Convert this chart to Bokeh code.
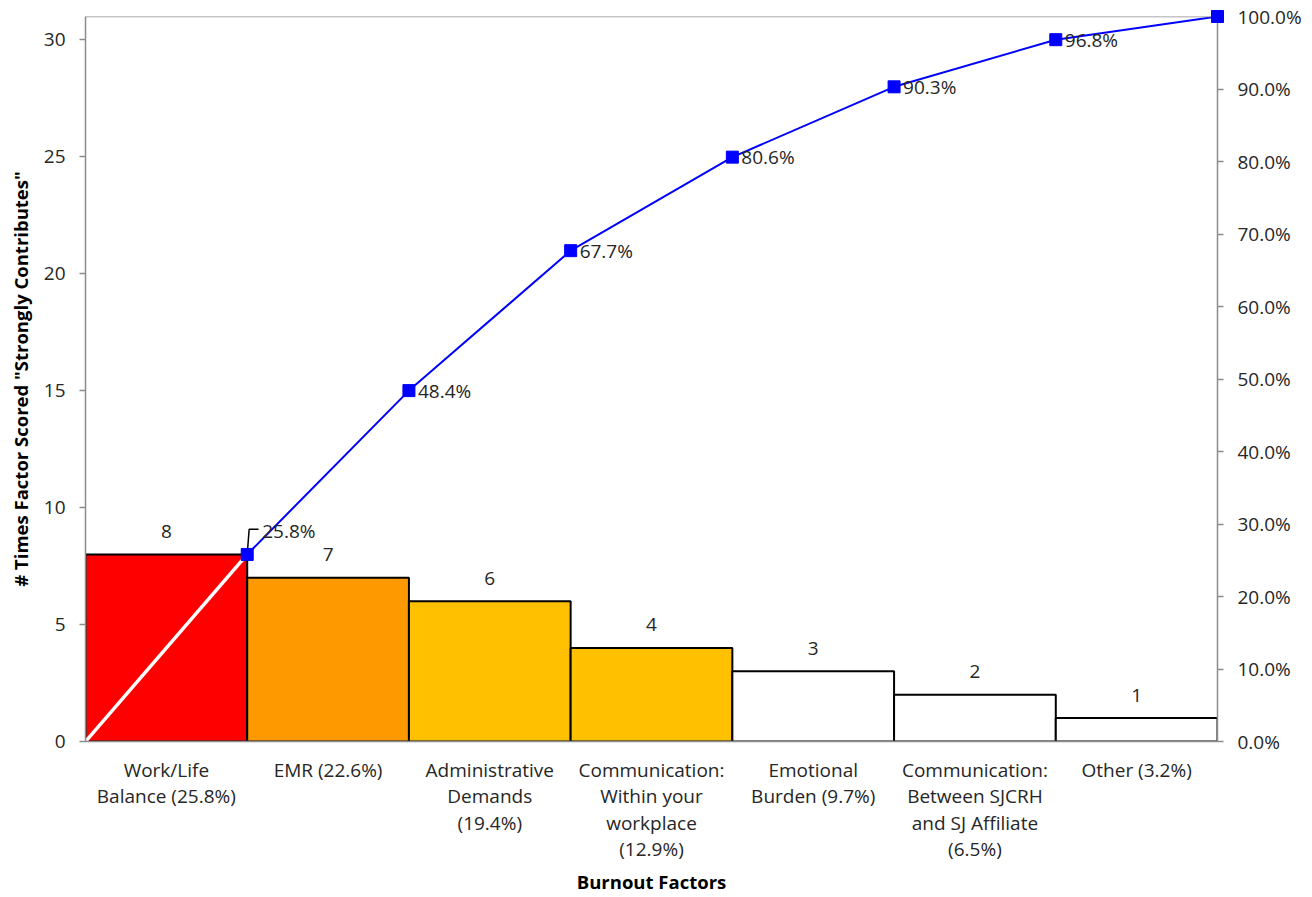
from bokeh.plotting import figure
from bokeh.models import (ColumnDataSource, Range1d, LinearAxis, FixedTicker,
                          PrintfTickFormatter, Span)
from bokeh.embed import file_html
from bokeh.resources import INLINE

# Burnout factors, ranked by how often they were scored "strongly contributes"
factors = [
    "Work/Life\nBalance (25.8%)",
    "EMR (22.6%)",
    "Administrative\nDemands\n(19.4%)",
    "Communication:\nWithin your\nworkplace\n(12.9%)",
    "Emotional\nBurden (9.7%)",
    "Communication:\nBetween SJCRH\nand SJ Affiliate\n(6.5%)",
    "Other (3.2%)",
]
counts = [8, 7, 6, 4, 3, 2, 1]
cum_pct = [25.8, 48.4, 67.7, 80.6, 90.3, 96.8, 100.0]
bar_colors = ["#FF0000", "#FF9900", "#FFC000", "#FFC000", "#FFFFFF", "#FFFFFF", "#FFFFFF"]

left_ticks = [0, 5, 10, 15, 20, 25, 30]
right_ticks = [0, 10, 20, 30, 40, 50, 60, 70, 80, 90, 100]

FONT = "Open Sans"
FS = "19px"
AXIS_GRAY = "#8C8C8C"
TEXT = "#262626"

total = sum(counts)
n = len(counts)
centers = [i + 0.5 for i in range(n)]
right_edges = [i + 1 for i in range(n)]

bars = ColumnDataSource(dict(x=centers, top=counts, color=bar_colors,
                             label=[str(c) for c in counts]))
cum = ColumnDataSource(dict(x=right_edges, pct=cum_pct))

p = figure(width=1312, height=897, output_backend="svg", toolbar_location=None,
           x_range=Range1d(0, n), y_range=Range1d(0, total),
           min_border_left=85, min_border_right=95, min_border_top=16,
           min_border_bottom=156, outline_line_color=None)
p.extra_y_ranges = {"pct": Range1d(0, 100)}
p.xgrid.visible = False
p.ygrid.visible = False
p.background_fill_color = "white"
p.border_fill_color = "white"

# Frame top edge
p.add_layout(Span(location=total, dimension="width", line_color=AXIS_GRAY, line_width=1.5))

# Bars, touching each other
p.vbar(x="x", top="top", width=1.0, bottom=0, source=bars, fill_color="color",
       line_color="black", line_width=2)

# Bar value labels
p.text(x="x", y="top", text="label", source=bars, text_align="center",
       text_baseline="middle", y_offset=-23, text_font_size=FS,
       text_color=TEXT, text_font={"value": FONT})

# Cumulative percentage line (white segment from origin to the first point)
p.line(x=[0, right_edges[0]], y=[0, cum_pct[0]], y_range_name="pct",
       line_color="white", line_width=3.5)
p.line(x="x", y="pct", source=cum, y_range_name="pct", line_color="#0000FF",
       line_width=2)
p.scatter(x="x", y="pct", source=cum, y_range_name="pct", marker="square",
          size=12, fill_color="#0000FF", line_color="#0000FF", level="overlay")

# Cumulative labels; the first one sits above its point with a leader line
lbl_first = ColumnDataSource(dict(x=[right_edges[0]], pct=[cum_pct[0]],
                                  label=[f"{cum_pct[0]:.1f}%"]))
lbl_rest = ColumnDataSource(dict(x=right_edges[1:-1], pct=cum_pct[1:-1],
                                 label=[f"{v:.1f}%" for v in cum_pct[1:-1]]))
p.text(x="x", y="pct", text="label", source=lbl_rest, y_range_name="pct",
       text_align="left", text_baseline="middle", x_offset=9,
       text_font_size=FS, text_color=TEXT, text_font={"value": FONT})
p.text(x="x", y="pct", text="label", source=lbl_first, y_range_name="pct",
       text_align="left", text_baseline="middle", x_offset=15, y_offset=-23,
       text_font_size=FS, text_color=TEXT, text_font={"value": FONT})
lead_up = 100 * 1.08 / total
p.line(x=[right_edges[0], right_edges[0] + 0.012, right_edges[0] + 0.07],
       y=[cum_pct[0], cum_pct[0] + lead_up, cum_pct[0] + lead_up],
       y_range_name="pct", line_color="black", line_width=1.5)

# Axes
xa = p.xaxis[0]
xa.ticker = FixedTicker(ticks=centers)
xa.major_label_overrides = {c: f for c, f in zip(centers, factors)}
xa.major_tick_line_color = None
xa.minor_tick_line_color = None
xa.axis_line_color = AXIS_GRAY
xa.axis_line_width = 1.5
xa.major_label_text_font = FONT
xa.major_label_text_font_size = FS
xa.major_label_text_color = TEXT
xa.major_label_text_line_height = 1.02
xa.major_label_standoff = 9
xa.axis_label = "Burnout Factors"
xa.axis_label_text_font = FONT
xa.axis_label_text_font_style = "bold"
xa.axis_label_text_font_size = "18.5px"
xa.axis_label_text_color = "black"
xa.axis_label_standoff = 4

ya = p.yaxis[0]
ya.ticker = FixedTicker(ticks=left_ticks)
ya.bounds = (0, total)
ya.axis_line_color = AXIS_GRAY
ya.axis_line_width = 1.5
ya.major_tick_line_color = AXIS_GRAY
ya.major_tick_line_width = 1.5
ya.major_tick_out = 6
ya.major_tick_in = 0
ya.minor_tick_line_color = None
ya.major_label_text_font = FONT
ya.major_label_text_font_size = FS
ya.major_label_text_color = TEXT
ya.major_label_standoff = 14
ya.axis_label = '# Times Factor Scored "Strongly Contributes"'
ya.axis_label_text_font = FONT
ya.axis_label_text_font_style = "bold"
ya.axis_label_text_font_size = "18.5px"
ya.axis_label_text_color = "black"
ya.axis_label_standoff = 8

ra = LinearAxis(y_range_name="pct", ticker=FixedTicker(ticks=right_ticks),
                formatter=PrintfTickFormatter(format="%.1f%%"))
ra.bounds = (0, 100)
ra.axis_line_color = AXIS_GRAY
ra.axis_line_width = 1.5
ra.major_tick_line_color = AXIS_GRAY
ra.major_tick_line_width = 1.5
ra.major_tick_out = 6
ra.major_tick_in = 0
ra.minor_tick_line_color = None
ra.major_label_text_font = FONT
ra.major_label_text_font_size = FS
ra.major_label_text_color = TEXT
ra.major_label_standoff = 14
p.add_layout(ra, "right")

open("out.html", "w").write(file_html(p, INLINE))
